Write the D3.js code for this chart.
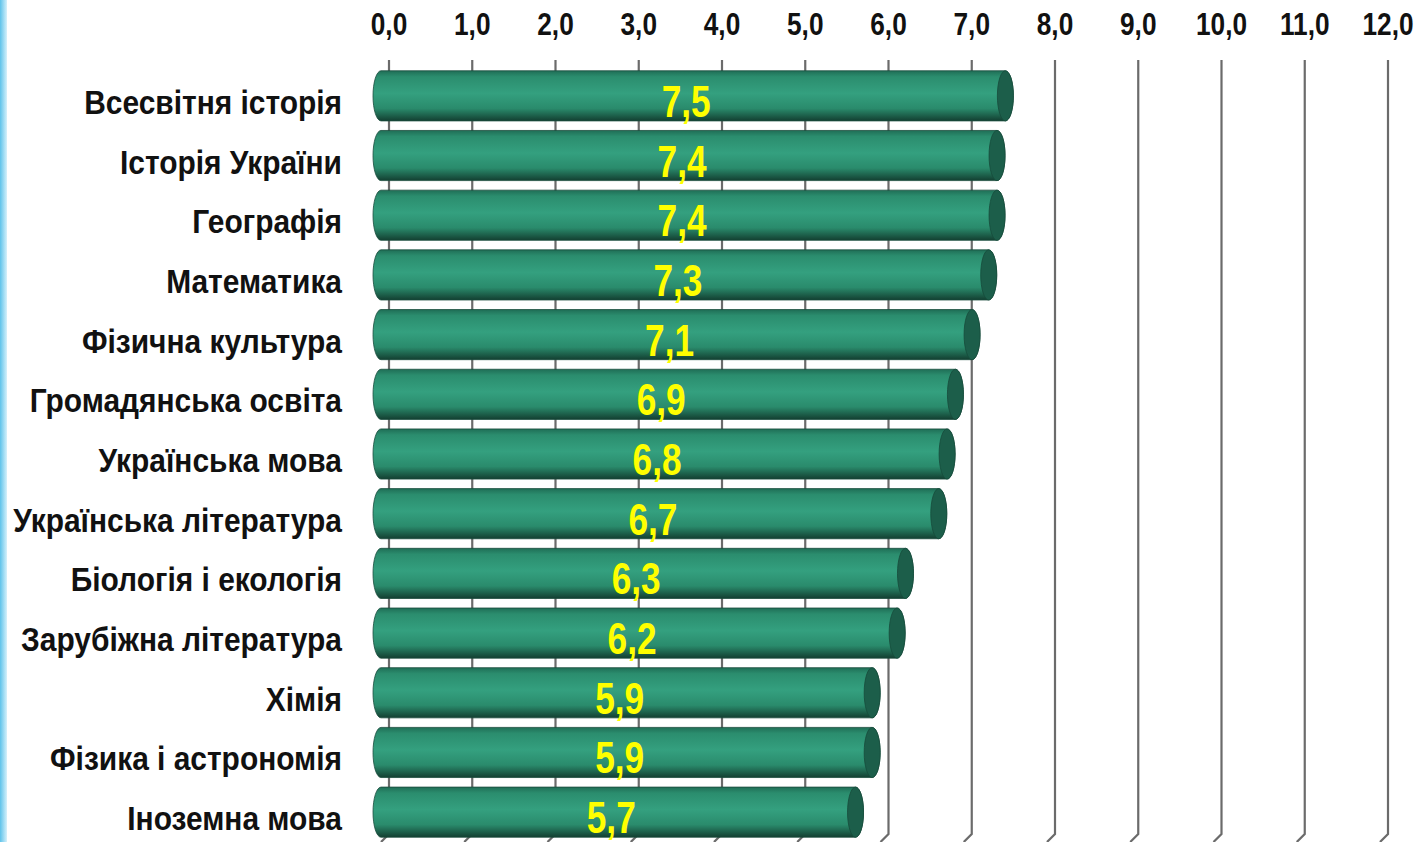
<!DOCTYPE html>
<html>
<head>
<meta charset="utf-8">
<script src="https://cdn.jsdelivr.net/npm/d3@7"></script>
<style>
  html, body { margin: 0; padding: 0; background: #fff; }
  svg { display: block; }
  text { font-family: "Liberation Sans Narrow", "Arial Narrow", "Liberation Sans", sans-serif; font-weight: bold; }
</style>
</head>
<body>
<svg width="1424" height="842"></svg>
<script>
"use strict";

var subjects = [
  'Всесвітня історія', 'Історія України', 'Географія', 'Математика',
  'Фізична культура', 'Громадянська освіта', 'Українська мова',
  'Українська література', 'Біологія і екологія', 'Зарубіжна література',
  'Хімія', 'Фізика і астрономія', 'Іноземна мова'
];
var scores = [7.5, 7.4, 7.4, 7.3, 7.1, 6.9, 6.8, 6.7, 6.3, 6.2, 5.9, 5.9, 5.7];
var ticks = [0, 1, 2, 3, 4, 5, 6, 7, 8, 9, 10, 11, 12];

var fmt = d => d.toFixed(1).replace('.', ',');

var svg = d3.select("svg");

// blue strip of the slide background on the left
var defs = svg.append("defs");
var strip = defs.append("linearGradient").attr("id", "strip")
  .attr("x1", 0).attr("x2", 1).attr("y1", 0).attr("y2", 0);
strip.append("stop").attr("offset", "0%").attr("stop-color", "#5fc3ea");
strip.append("stop").attr("offset", "100%").attr("stop-color", "#d6f1fb");
svg.append("rect").attr("x", 0).attr("y", 0).attr("width", 7).attr("height", 842)
  .attr("fill", "url(#strip)");

var body = defs.append("linearGradient").attr("id", "cyl")
  .attr("x1", 0).attr("x2", 0).attr("y1", 0).attr("y2", 1);
body.append("stop").attr("offset", "0%").attr("stop-color", "#1f6e56");
body.append("stop").attr("offset", "12%").attr("stop-color", "#2b8d6e");
body.append("stop").attr("offset", "45%").attr("stop-color", "#34a07f");
body.append("stop").attr("offset", "75%").attr("stop-color", "#2a8b6c");
body.append("stop").attr("offset", "100%").attr("stop-color", "#133f31");

var x = d3.scaleLinear().domain([0, 12]).range([389, 1388]);
var y = d3.scaleBand().domain(subjects).range([66, 842])
  .paddingInner(0.16).paddingOuter(0.08);

var depth = 8;   // 3d shift of the bars relative to the grid
var rx = 8;      // half width of the cylinder caps

// grid lines
svg.append("g").selectAll("path")
  .data(ticks)
  .enter()
  .append("path")
  .attr("d", d => 'M' + x(d) + ',60 L' + x(d) + ',834 L' + (x(d) - depth) + ',842')
  .attr("stroke", "#6b6b6b")
  .attr("stroke-width", 2.2)
  .attr("fill", "none");

// tick labels
svg.append("g").selectAll("text")
  .data(ticks)
  .enter()
  .append("text")
  .attr("transform", d => 'translate(' + x(d) + ',35) scale(0.82,1)')
  .attr("text-anchor", "middle")
  .attr("font-size", 32)
  .attr("fill", "#111")
  .text(fmt);

// cylinders
var bars = svg.append("g").selectAll("g")
  .data(subjects)
  .enter()
  .append("g");

bars.append("path")
  .attr("d", (d, i) => {
    var x0 = x(0) - depth, x1 = x(scores[i]) - depth;
    var t = y(d), h = y.bandwidth(), ry = h / 2;
    return 'M' + x0 + ',' + t + ' L' + x1 + ',' + t +
      ' A' + rx + ',' + ry + ' 0 0 1 ' + x1 + ',' + (t + h) +
      ' L' + x0 + ',' + (t + h) +
      ' A' + rx + ',' + ry + ' 0 0 1 ' + x0 + ',' + t + 'Z';
  })
  .attr("fill", "url(#cyl)")
  .attr("stroke", "#1a4d3d")
  .attr("stroke-width", 0.8);

bars.append("ellipse")
  .attr("cx", (d, i) => x(scores[i]) - depth)
  .attr("cy", d => y(d) + y.bandwidth() / 2)
  .attr("rx", rx)
  .attr("ry", y.bandwidth() / 2)
  .attr("fill", "#1c5e4a")
  .attr("stroke", "#174b3b")
  .attr("stroke-width", 0.8);

// value labels
bars.append("text")
  .attr("transform", (d, i) => 'translate(' + ((x(0) + x(scores[i])) / 2 - 15) + ',' +
    (y(d) + y.bandwidth() / 2 + 21) + ') scale(0.8,1)')
  .attr("text-anchor", "middle")
  .attr("font-size", 44)
  .attr("fill", "#ffff00")
  .text((d, i) => fmt(scores[i]));

// category labels
svg.append("g").selectAll("text")
  .data(subjects)
  .enter()
  .append("text")
  .attr("transform", d => 'translate(342,' + (y(d) + y.bandwidth() / 2 + 18) + ') scale(0.88,1)')
  .attr("text-anchor", "end")
  .attr("font-size", 34)
  .attr("fill", "#111")
  .text(d => d);
</script>
</body>
</html>
